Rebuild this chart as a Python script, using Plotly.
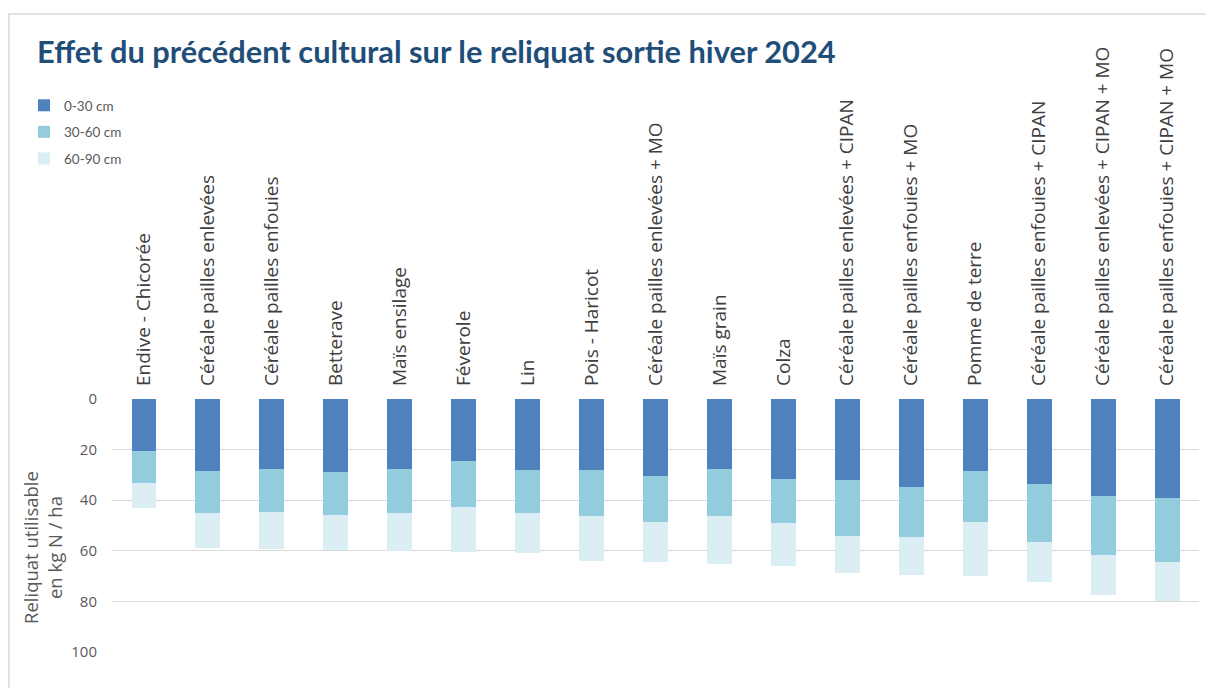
import plotly.graph_objects as go

categories = [
    "Endive - Chicorée",
    "Céréale pailles enlevées",
    "Céréale pailles enfouies",
    "Betterave",
    "Maïs ensilage",
    "Féverole",
    "Lin",
    "Pois - Haricot",
    "Céréale pailles enlevées + MO",
    "Maïs grain",
    "Colza",
    "Céréale pailles enlevées + CIPAN",
    "Céréale pailles enfouies + MO",
    "Pomme de terre",
    "Céréale pailles enfouies + CIPAN",
    "Céréale pailles enlevées + CIPAN + MO",
    "Céréale pailles enfouies + CIPAN + MO",
]
series_names = ["0-30 cm", "30-60 cm", "60-90 cm"]
v_0_30 = [20.4, 28.3, 27.5, 28.7, 27.5, 24.5, 28.2, 28.2, 30.4, 27.7, 31.5, 32.1, 34.7, 28.3, 33.6, 38.2, 39.1]
v_30_60 = [12.8, 16.6, 17.2, 17.3, 17.4, 18.3, 16.7, 18.0, 18.3, 18.7, 17.6, 21.9, 20.0, 20.2, 22.9, 23.5, 25.3]
v_60_90 = [9.9, 13.9, 14.5, 13.8, 15.3, 17.8, 16.0, 17.8, 15.7, 18.7, 17.0, 14.9, 14.9, 21.5, 15.8, 15.9, 15.4]
y_ticks = [0, 20, 40, 60, 80, 100]
title_text = "Effet du précédent cultural sur le reliquat sortie hiver 2024"
y_title = "Reliquat utilisable<br>en kg N / ha"

colors = ["#4F81BD", "#93CDDD", "#DBEEF4"]

W, H = 1206, 688
L, R, T, B = 112, 7, 399, 36
pw, ph = W - L - R, H - T - B

def px2x(px):
    return (px - L) / pw

def py2y(py):
    return 1 - (py - T) / ph

fig = go.Figure()
for name, vals, col in zip(series_names, [v_0_30, v_30_60, v_60_90], colors):
    fig.add_trace(go.Bar(
        x=categories, y=vals, name=name, legendgroup=name,
        marker=dict(color=col, line=dict(width=0)),
        width=0.39,
    ))

fig.update_layout(
    barmode="stack",
    width=W, height=H,
    margin=dict(l=L, r=R, t=T, b=B, pad=0),
    paper_bgcolor="white", plot_bgcolor="white",
    font=dict(family="Lato, sans-serif", color="#595959"),
    showlegend=True,
    legend=dict(
        x=px2x(24), y=py2y(90), xanchor="left", yanchor="top",
        font=dict(size=13.5, color="#595959"),
        traceorder="grouped", itemwidth=30, tracegroupgap=6,
        bgcolor="rgba(0,0,0,0)",
    ),
    title=dict(
        text="<b>" + title_text + "</b>",
        x=37 / W, xanchor="left", y=1 - 52 / H, yanchor="middle",
        font=dict(family="Lato, sans-serif", size=30.8, color="#1F4E79"),
    ),
    bargap=0.61,
)
fig.update_xaxes(
    side="top", tickangle=-90, showgrid=False, showline=False, ticks="",
    tickfont=dict(size=19, color="#404040", family="Open Sans, sans-serif"),
    ticklabelstandoff=12,
)
fig.update_yaxes(
    range=[100, 0], tickvals=y_ticks, showgrid=True, gridcolor="#D9D9D9", gridwidth=1.3,
    zeroline=False, showline=False, ticks="",
    tickfont=dict(size=15, color="#595959", family="Open Sans, sans-serif"),
    ticklabelstandoff=14,
)
fig.add_annotation(
    text=y_title, textangle=-90, xref="paper", yref="paper",
    x=px2x(42), y=py2y(548), xanchor="center", yanchor="middle",
    showarrow=False, font=dict(size=18.5, color="#595959", family="Open Sans, sans-serif"),
)
fig.add_shape(
    type="rect", xref="paper", yref="paper",
    x0=px2x(9), x1=px2x(1215), y0=py2y(700), y1=py2y(14),
    line=dict(color="#D9D9D9", width=1.5), fillcolor="rgba(0,0,0,0)", layer="below",
)

fig.write_html(
    "out.html",
    config={"displayModeBar": False},
    post_script="document.body.style.margin='0';document.body.style.overflow='hidden';",
)
